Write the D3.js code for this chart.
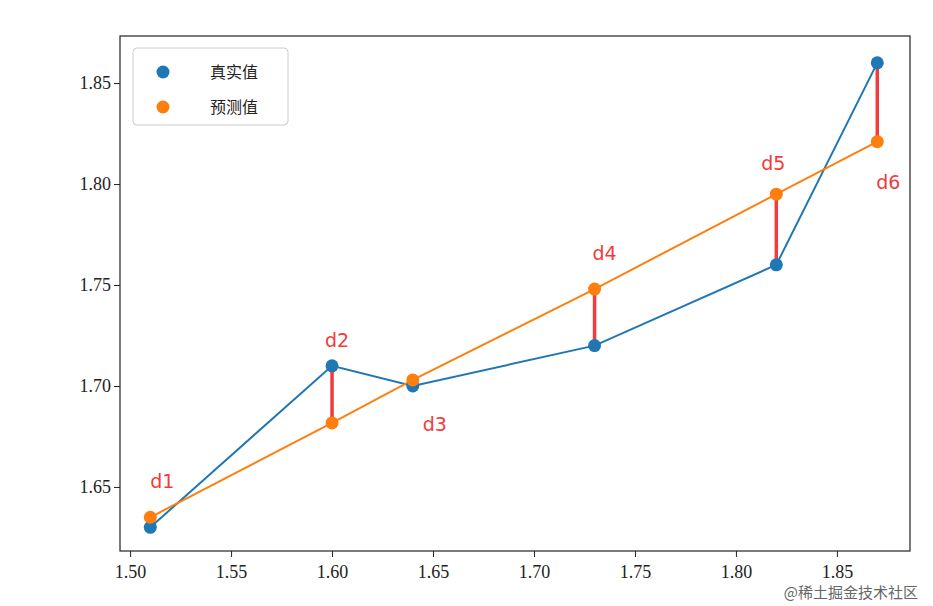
<!DOCTYPE html>
<html><head><meta charset="utf-8">
<script src="https://cdn.jsdelivr.net/npm/d3@7"></script>
<style>body{margin:0;background:#fff}</style>
</head><body>
<svg id="chart" width="933" height="606"></svg>
<script>
var xs = [1.51, 1.60, 1.64, 1.73, 1.82, 1.87];
var trueY = [1.63, 1.71, 1.70, 1.72, 1.76, 1.86];
var predY = [1.635, 1.6817, 1.703, 1.748, 1.795, 1.821];
var labels = ["d1", "d2", "d3", "d4", "d5", "d6"];
var xTicks = [1.50, 1.55, 1.60, 1.65, 1.70, 1.75, 1.80, 1.85];
var yTicks = [1.65, 1.70, 1.75, 1.80, 1.85];
var legendNames = ["真实值", "预测值"];

var blue = "#1f77b4", orange = "#ff7f0e", red = "#f03c3c";
var svg = d3.select("#chart");
var L = 120, R = 910, T = 36, B = 551;
var x = d3.scaleLinear().domain([1.495, 1.8862]).range([L, R]);
var y = d3.scaleLinear().domain([1.6183, 1.8733]).range([B, T]);
var tickFont = "'Liberation Serif','DejaVu Serif',serif";

svg.append("g").attr("transform", "translate(0," + B + ")")
  .call(d3.axisBottom(x).tickValues(xTicks).tickFormat(d3.format(".2f")).tickSizeOuter(0))
  .call(function(g){ g.select(".domain").remove(); g.selectAll("text").attr("font-family", tickFont).attr("font-size", 18).attr("fill", "#222").attr("dy", "1em"); g.selectAll("line").attr("stroke", "#222"); });
svg.append("g").attr("transform", "translate(" + L + ",0)")
  .call(d3.axisLeft(y).tickValues(yTicks).tickFormat(d3.format(".2f")).tickSizeOuter(0))
  .call(function(g){ g.select(".domain").remove(); g.selectAll("text").attr("font-family", tickFont).attr("font-size", 18).attr("fill", "#222"); g.selectAll("line").attr("stroke", "#222"); });
svg.append("rect").attr("x", L).attr("y", T).attr("width", R - L).attr("height", B - T)
  .attr("fill", "none").attr("stroke", "#222").attr("stroke-width", 1.2);

var idx = d3.range(xs.length);
var line = function(ys){ return d3.line().x(function(i){ return x(xs[i]); }).y(function(i){ return y(ys[i]); })(idx); };
svg.append("path").attr("d", line(trueY)).attr("fill", "none").attr("stroke", blue).attr("stroke-width", 2);
svg.append("path").attr("d", line(predY)).attr("fill", "none").attr("stroke", orange).attr("stroke-width", 2);

svg.selectAll(".err").data(idx).enter().append("line")
  .attr("x1", function(i){ return x(xs[i]); }).attr("x2", function(i){ return x(xs[i]); })
  .attr("y1", function(i){ return y(trueY[i]); }).attr("y2", function(i){ return y(predY[i]); })
  .attr("stroke", red).attr("stroke-width", 3.5);

svg.selectAll(".pt").data(idx).enter().append("circle")
  .attr("cx", function(i){ return x(xs[i]); }).attr("cy", function(i){ return y(trueY[i]); })
  .attr("r", 6.5).attr("fill", blue);
svg.selectAll(".pp").data(idx).enter().append("circle")
  .attr("cx", function(i){ return x(xs[i]); }).attr("cy", function(i){ return y(predY[i]); })
  .attr("r", 6.5).attr("fill", orange);

// label offsets relative to the higher of the two points
var labelOff = [[12, -35], [5, -25], [22, 45], [10, -35], [-3, -30], [11, 120]];
svg.selectAll(".lab").data(idx).enter().append("text")
  .attr("x", function(i){ return x(xs[i]) + labelOff[i][0]; })
  .attr("y", function(i){ return y(Math.max(trueY[i], predY[i])) + labelOff[i][1] + 6; })
  .attr("text-anchor", "middle").attr("font-family", "'DejaVu Sans',sans-serif").attr("font-size", 19)
  .attr("fill", red).text(function(i){ return labels[i]; });

var lg = svg.append("g");
lg.append("rect").attr("x", 133).attr("y", 48).attr("width", 155).attr("height", 77).attr("rx", 4)
  .attr("fill", "#fff").attr("stroke", "#ccc");
[blue, orange].forEach(function(c, k){
  lg.append("circle").attr("cx", 163).attr("cy", 72 + k * 35).attr("r", 6.5).attr("fill", c);
  lg.append("text").attr("x", 210).attr("y", 72 + k * 35 + 6).attr("font-family", "'Noto Sans CJK SC',sans-serif")
    .attr("font-size", 16).attr("fill", "#222").text(legendNames[k]);
});

svg.append("text").attr("x", 918).attr("y", 598).attr("text-anchor", "end")
  .attr("font-family", "'Noto Sans CJK SC',sans-serif").attr("font-size", 15).attr("fill", "#666")
  .text("@稀土掘金技术社区");
</script>
</body></html>
